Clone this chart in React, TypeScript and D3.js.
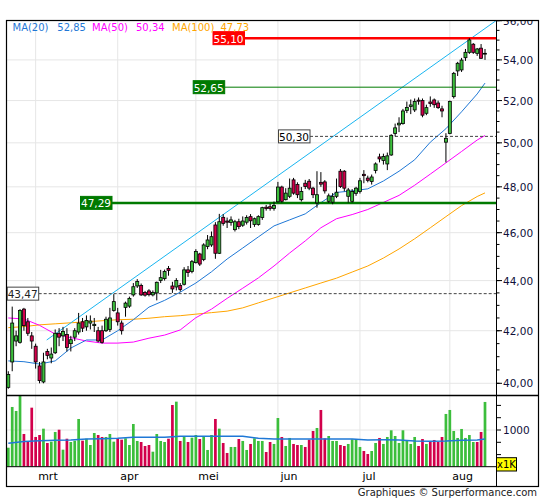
import * as d3 from 'd3';

// trading days shown (Euronext, 2025)
const tradingStart = new Date(2025, 1, 20);
const tradingEnd = new Date(2025, 7, 15);
const closedDays = ['2025-04-18', '2025-04-21', '2025-05-01'];
const dayKey = d3.timeFormat('%Y-%m-%d');
const days = d3.timeDay
	.range(tradingStart, tradingEnd)
	.filter((d) => d.getDay() % 6 !== 0 && !closedDays.includes(dayKey(d)));

const monthNames = ['jan', 'feb', 'mrt', 'apr', 'mei', 'jun', 'jul', 'aug', 'sep', 'okt', 'nov', 'dec'];

const open = [
	39.85, 40.8, 41.6, 41.55, 42.85, 42.35, 41.8, 41.4, 40.65, 40.05,
	41.2, 40.95, 41.15, 41.9, 41.8, 41.85, 41.5, 41.75, 41.95, 42.35,
	42.15, 42.3, 42.2, 42.0, 42.0, 42.0, 42.05, 42.8, 42.7, 42.3,
	42.92, 42.97, 43.42, 43.78, 43.8, 43.52, 43.58, 43.42, 43.5, 44.0,
	44.08, 44.5, 43.78, 43.74, 43.8, 43.85, 44.44, 44.37, 44.74, 45.1,
	44.87, 45.41, 45.48, 46.33, 45.13, 46.66, 46.5, 46.44, 46.13, 46.47,
	46.32, 46.45, 46.69, 46.35, 46.35, 46.65, 47.1, 47.12, 47.04, 47.34,
	47.99, 47.43, 47.58, 48.31, 48.1, 47.43, 48.16, 48.25, 47.94, 47.29,
	48.2, 48.22, 47.36, 47.32, 47.58, 48.7, 48.7, 47.58, 47.36, 47.71,
	47.79, 48.56, 48.39, 48.24, 48.73, 49.35, 49.19, 49.03, 49.44, 50.44,
	50.84, 50.9, 51.52, 51.71, 51.55, 52.02, 52.0, 51.39, 51.93, 52.03,
	51.88, 51.6, 50.03, 50.44, 52.19, 53.45, 53.5, 54.11, 54.38, 54.79,
	54.33, 54.59, 54.3,
];
const high = [
	40.45, 42.95, 42.0, 42.85, 42.9, 42.5, 41.95, 41.5, 40.8, 41.15,
	41.3, 41.35, 42.05, 42.1, 42.15, 42.1, 41.8, 42.1, 42.7, 42.5,
	42.6, 42.6, 42.5, 42.15, 42.2, 42.55, 42.9, 43.45, 42.9, 42.4,
	43.15, 43.35, 43.9, 44.06, 43.88, 43.58, 43.65, 43.6, 43.96, 44.44,
	44.45, 44.6, 43.95, 44.1, 43.9, 44.55, 44.6, 44.85, 45.3, 45.15,
	45.55, 45.9, 46.05, 46.45, 46.81, 46.8, 46.65, 46.7, 46.55, 46.6,
	46.7, 46.75, 46.8, 46.65, 46.75, 47.12, 47.2, 47.25, 47.35, 48.22,
	48.05, 47.94, 48.37, 48.4, 48.2, 47.99, 48.31, 48.35, 48.0, 48.7,
	48.66, 48.3, 47.7, 47.72, 48.37, 48.8, 48.75, 47.95, 47.9, 48.0,
	48.4, 48.75, 48.5, 48.55, 49.1, 49.5, 49.5, 49.55, 50.4, 50.9,
	51.2, 51.6, 51.95, 52.05, 52.1, 52.15, 52.1, 51.8, 52.2, 52.1,
	52.0, 51.75, 50.45, 52.0, 53.4, 53.9, 54.1, 54.55, 55.1, 54.85,
	54.6, 54.8, 54.55,
];
const low = [
	39.8, 40.45, 41.4, 41.5, 42.0, 41.8, 41.3, 40.55, 40.0, 40.0,
	40.9, 40.75, 41.1, 41.4, 41.6, 41.2, 41.2, 41.6, 41.85, 41.95,
	42.0, 42.05, 41.95, 41.55, 41.5, 41.95, 41.95, 42.75, 42.2, 41.85,
	42.55, 42.9, 43.35, 43.7, 43.38, 43.35, 43.36, 43.36, 43.2, 43.9,
	44.0, 44.2, 43.5, 43.6, 43.55, 43.8, 44.15, 44.3, 44.7, 44.6,
	44.8, 45.3, 45.4, 44.9, 45.1, 46.3, 46.2, 46.3, 46.05, 46.15,
	46.25, 46.35, 46.2, 46.25, 46.3, 46.55, 46.95, 46.95, 46.95, 47.3,
	47.3, 47.4, 47.5, 47.65, 47.5, 47.35, 47.9, 47.85, 47.5, 47.08,
	48.0, 47.7, 47.29, 47.23, 47.5, 47.95, 47.8, 47.3, 47.3, 47.6,
	47.7, 48.16, 48.2, 48.1, 48.6, 49.1, 49.0, 48.75, 49.4, 50.3,
	50.5, 50.85, 51.4, 51.35, 51.45, 51.8, 51.2, 51.3, 51.7, 51.65,
	51.6, 51.2, 49.1, 50.4, 52.1, 53.2, 53.4, 53.95, 54.3, 54.3,
	54.2, 54.05, 54.0,
];
const close = [
	40.33, 42.3, 41.8, 42.8, 42.2, 41.9, 41.6, 40.8, 40.1, 40.8,
	41.05, 41.1, 41.9, 41.75, 41.97, 41.35, 41.65, 42.0, 42.3, 42.1,
	42.4, 42.38, 42.25, 41.6, 41.55, 42.45, 42.5, 43.15, 42.35, 42.0,
	43.09, 43.28, 43.75, 43.96, 43.42, 43.41, 43.43, 43.52, 43.93, 44.12,
	44.37, 44.42, 43.66, 44.0, 43.64, 44.44, 44.33, 44.78, 45.2, 44.68,
	45.48, 45.69, 45.83, 45.13, 46.47, 46.4, 46.45, 46.55, 46.47, 46.26,
	46.5, 46.65, 46.51, 46.6, 46.69, 47.08, 47.04, 47.05, 47.18, 47.99,
	47.36, 47.72, 47.94, 47.72, 47.65, 47.79, 48.01, 47.94, 47.65, 47.65,
	48.12, 47.82, 47.6, 47.58, 47.76, 48.01, 47.94, 47.86, 47.79, 47.94,
	48.27, 48.5, 48.29, 48.44, 49.03, 49.26, 49.37, 49.4, 50.35, 50.7,
	50.92, 51.5, 51.67, 51.79, 51.95, 51.97, 51.3, 51.66, 51.86, 51.8,
	51.66, 51.5, 50.21, 51.95, 53.33, 53.83, 53.99, 54.38, 55.01, 54.38,
	54.55, 54.08, 54.33,
];

// volume in thousands, and its up/down colour as drawn (G = up, R = down)
const volume = [
	640, 1468, 1387, 1750, 919, 763, 1454, 858, 898, 1027,
	736, 763, 960, 1006, 600, 823, 756, 783, 1224, 783,
	823, 695, 939, 898, 858, 858, 919, 763, 831, 803,
	831, 695, 1122, 777, 756, 675, 695, 559, 919, 777,
	756, 823, 1508, 1576, 777, 872, 756, 844, 898, 817,
	864, 594, 898, 1224, 1027, 736, 533, 655, 655, 817,
	777, 594, 716, 831, 777, 777, 553, 756, 716, 1244,
	858, 675, 838, 716, 695, 695, 655, 803, 980, 1041,
	1407, 830, 878, 777, 777, 695, 675, 716, 810, 810,
	655, 573, 512, 573, 736, 838, 716, 858, 994, 878,
	736, 994, 777, 716, 858, 675, 817, 716, 777, 797,
	756, 858, 1326, 1407, 980, 838, 1021, 838, 898, 756,
	756, 960, 1570,
];
const volumeDir =
	'GGGGRRRRRG' + 'RGGRGRGGGR' + 'GGGRRGGGRR' + 'GGGGRRRGGG' + 'GRRGRGRGGR' +
	'GGGRGRRGGR' + 'GGRGGGRRGG' + 'RGGRRGRRRG' + 'RRGGGRRGGG' + 'GRRGGRGGGG' +
	'GGGGGRRGRR' + 'RRGGGGGGGG' + 'RRG';

// moving averages at these day indices
const maIdx = [
	0, 4, 8, 12, 16, 20, 24, 28, 32, 36, 40, 44, 48, 52, 56, 60,
	64, 68, 72, 76, 80, 84, 88, 92, 96, 100, 104, 108, 112, 116, 120, 122,
];
const ma20 = [
	40.84, 40.81, 40.72, 40.84, 41.33, 41.64, 41.64, 42.0, 42.43, 42.93, 43.2, 43.53, 43.9, 44.36, 44.89, 45.35,
	45.82, 46.29, 46.55, 46.81, 47.3, 47.75, 47.82, 47.91, 48.26, 48.7, 49.22, 50.03, 50.66, 51.46, 52.32, 52.85,
];
const ma50 = [
	42.5, 42.46, 42.21, 41.87, 41.73, 41.6, 41.52, 41.52, 41.56, 41.71, 41.83, 42.03, 42.51, 42.85, 43.28, 43.69,
	44.11, 44.6, 45.14, 45.65, 46.21, 46.6, 46.78, 47.0, 47.31, 47.62, 48.07, 48.57, 49.08, 49.6, 50.13, 50.34,
];
const ma100 = [
	42.12, 42.16, 42.23, 42.27, 42.31, 42.35, 42.39, 42.43, 42.45, 42.49, 42.55, 42.59, 42.65, 42.71, 42.77, 42.9,
	43.1, 43.3, 43.5, 43.7, 43.9, 44.1, 44.35, 44.6, 44.93, 45.31, 45.74, 46.21, 46.69, 47.17, 47.57, 47.73,
];
const volMa = [
	730, 765, 780, 793, 797, 817, 823, 830, 851, 851, 851, 871, 871, 871, 871, 871,
	830, 817, 817, 817, 817, 817, 817, 797, 800, 797, 776, 770, 775, 790, 797, 817,
];
const maNames = ['MA(20)', 'MA(50)', 'MA(100)'];

// trend channel line: day index and price at both ends
const trendIdx = [9.83, 124.8];
const trendPrice = [41.64, 56.0];

// horizontal levels
const levelValues = [55.1, 52.65, 50.3, 47.29, 43.47];

const priceTicks = d3.range(40, 56.01, 2);
const priceMinor = d3.range(40, 56.01, 0.5);
const volumeTicks = [500, 750, 1000, 1250, 1500];
const volumeLabels = [1000];

const fmt = d3.formatLocale({ decimal: ',', thousands: '.', grouping: [3], currency: ['', ''] }).format('.2f');

// layout
const left = 6,
	right = 496,
	outer = 538,
	top = 20,
	mainBottom = 395,
	volBottom = 466.7,
	axisBottom = 486;

const green = '#3cbe3c',
	red = '#d2004b';

const levelStyle = [
	{ line: '#ff0000', width: 2.5, dash: '', box: '#ff0000', text: '#fff', border: '#ff0000', boxX: 212.5 },
	{ line: '#007a00', width: 1, dash: '', box: '#007a00', text: '#fff', border: '#007a00', boxX: 192.7 },
	{ line: '#444', width: 1, dash: '3,2', box: '#fff', text: '#000', border: '#444', boxX: 278 },
	{ line: '#007a00', width: 2.5, dash: '', box: '#007a00', text: '#fff', border: '#007a00', boxX: 80 },
	{ line: '#444', width: 1, dash: '3,2', box: '#fff', text: '#222', border: '#444', boxX: 6.7 },
];
const maColors = ['#1f78d6', '#ff00ff', '#ffa500'];
const legendX = [12.5, 92, 172];
const legendValueX = [57.3, 136, 220.5];

export default function App() {
	const x = d3.scaleLinear().domain([0, days.length - 1]).range([8.3, 485]);
	const y = d3.scaleLog().domain([40, 56]).range([383.3, 20.7]);
	const yVol = d3.scaleLinear().domain([0, 1000]).range([479.2, 430]);

	const maLine = d3
		.line<number>()
		.x((_, k) => x(maIdx[k]))
		.y((v) => y(v));
	const volLine = d3
		.line<number>()
		.x((_, k) => x(maIdx[k]))
		.y((v) => yVol(v));

	const monthStarts = days
		.map((d, i) => ({ d, i }))
		.filter(({ d, i }) => i > 0 && d.getMonth() !== days[i - 1].getMonth());

	const maSeries = [ma20, ma50, ma100];

	return (
		<svg
			width={545}
			height={500}
			style={{ position: 'absolute', left: 0, top: 0, background: '#fff' }}
			fontFamily="'DejaVu Sans', Verdana, sans-serif"
		>
			<defs>
				<clipPath id="mainClip">
					<rect x={left} y={top} width={right - left} height={mainBottom - top} />
				</clipPath>
				<clipPath id="volClip">
					<rect x={left} y={mainBottom} width={right - left} height={volBottom - mainBottom} />
				</clipPath>
				<clipPath id="axisClip">
					<rect x={right} y={top + 0.5} width={outer - right} height={mainBottom - top} />
				</clipPath>
			</defs>

			{/* main panel */}
			<g clipPath="url(#mainClip)">
				{priceTicks.map((t) => (
					<line key={t} x1={left} x2={right} y1={y(t)} y2={y(t)} stroke="#e6e6e6" />
				))}
				{monthStarts.map(({ i }) => (
					<line key={i} x1={x(i)} x2={x(i)} y1={top} y2={mainBottom} stroke="#e6e6e6" />
				))}
				{maSeries
					.map((s, k) => (
						<path key={k} d={maLine(s)!} fill="none" stroke={maColors[k]} strokeWidth={1} />
					))
					.reverse()}
				<line
					x1={x(trendIdx[0])}
					x2={x(trendIdx[1])}
					y1={y(trendPrice[0])}
					y2={y(trendPrice[1])}
					stroke="#19b5f0"
					strokeWidth={1}
				/>
				{levelValues.map((v, k) => (
					<line
						key={v}
						x1={levelStyle[k].boxX + 32}
						x2={right}
						y1={y(v)}
						y2={y(v)}
						stroke={levelStyle[k].line}
						strokeWidth={levelStyle[k].width}
						strokeDasharray={levelStyle[k].dash || undefined}
					/>
				))}
				{days.map((_, i) => {
					const up = close[i] >= open[i];
					const yt = y(Math.max(open[i], close[i]));
					const yb = y(Math.min(open[i], close[i]));
					return (
						<g key={i}>
							<line x1={x(i)} x2={x(i)} y1={y(high[i])} y2={y(low[i])} stroke="#000" strokeWidth={1} />
							<rect
								x={x(i) - 1.5}
								y={yt}
								width={3}
								height={Math.max(yb - yt, 0.8)}
								fill={up ? green : red}
								stroke="#000"
								strokeWidth={0.8}
							/>
						</g>
					);
				})}
				{levelValues.map((v, k) => (
					<g key={v} transform={`translate(${levelStyle[k].boxX}, ${y(v) - 6.5})`}>
						<rect
							x={0.5}
							y={0}
							width={31.5}
							height={13}
							fill={levelStyle[k].box}
							stroke={levelStyle[k].border}
						/>
						<text x={16} y={7} textAnchor="middle" dominantBaseline="central" fontSize={10.5} fill={levelStyle[k].text}>
							{fmt(v)}
						</text>
					</g>
				))}
				{maNames.map((name, k) => (
					<g key={name} fontSize={10} fill={maColors[k]}>
						<text x={legendX[k]} y={30.5}>
							{name}
						</text>
						<text x={legendValueX[k]} y={30.5}>
							{fmt(maSeries[k][maSeries[k].length - 1])}
						</text>
					</g>
				))}
			</g>

			{/* volume panel */}
			<g clipPath="url(#volClip)">
				<line x1={left} x2={right} y1={yVol(1000)} y2={yVol(1000)} stroke="#e6e6e6" />
				{monthStarts.map(({ i }) => (
					<line key={i} x1={x(i)} x2={x(i)} y1={mainBottom} y2={volBottom} stroke="#e6e6e6" />
				))}
				{volume.map((v, i) => (
					<rect
						key={i}
						x={x(i) - 1.35}
						y={yVol(v)}
						width={2.7}
						height={volBottom - yVol(v)}
						fill={volumeDir[i] === 'G' ? green : red}
					/>
				))}
				<path d={volLine(volMa)!} fill="none" stroke="#1f78d6" strokeWidth={1.5} />
			</g>

			{/* price axis */}
			<g clipPath="url(#axisClip)">
				{priceMinor.map((t) => (
					<line key={t} x1={right} x2={right + 3.5} y1={y(t)} y2={y(t)} stroke="#000" />
				))}
				{priceTicks.map((t) => (
					<g key={t}>
						<line x1={right} x2={right + 6} y1={y(t)} y2={y(t)} stroke="#000" />
						<text x={503} y={y(t)} dominantBaseline="central" fontSize={10.5} fill="#10103a">
							{fmt(t)}
						</text>
					</g>
				))}
			</g>

			{/* volume axis */}
			{volumeTicks.map((t) => (
				<line key={t} x1={right} x2={right + 5} y1={yVol(t)} y2={yVol(t)} stroke="#000" />
			))}
			{volumeLabels.map((t) => (
				<text key={t} x={503} y={yVol(t)} dominantBaseline="central" fontSize={10.5} fill="#10103a">
					{t}
				</text>
			))}
			<rect x={right + 0.5} y={457.7} width={20} height={13.3} fill="#ffff00" stroke="#000" />
			<text x={right + 10.5} y={464.6} textAnchor="middle" dominantBaseline="central" fontSize={10} fill="#000">
				x1K
			</text>

			{/* month labels */}
			{monthStarts.map(({ d, i }) => (
				<text key={i} x={x(i) + 2.5} y={479.5} fontSize={11} fill="#000">
					{monthNames[d.getMonth()]}
				</text>
			))}

			{/* frame */}
			<g stroke="#000" fill="none">
				<rect x={left + 0.5} y={top + 0.5} width={outer - left} height={axisBottom - top} strokeWidth={1.2} />
				<line x1={right + 0.5} x2={right + 0.5} y1={top} y2={axisBottom} />
				<line x1={left} x2={outer} y1={mainBottom + 0.5} y2={mainBottom + 0.5} strokeWidth={1.5} />
				<line x1={left} x2={right} y1={volBottom} y2={volBottom} />
			</g>

			<text x={537} y={496} textAnchor="end" fontSize={10} fill="#222">
				Graphiques © Surperformance.com
			</text>
		</svg>
	);
}
